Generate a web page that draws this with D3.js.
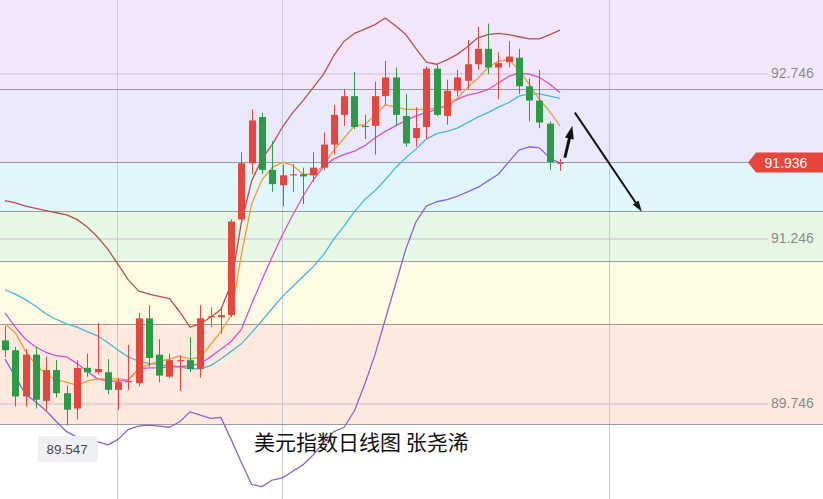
<!DOCTYPE html>
<html><head><meta charset="utf-8">
<script src="https://cdn.jsdelivr.net/npm/d3@7"></script>
<style>body{margin:0;background:#fff;overflow:hidden}svg{display:block}</style>
</head><body><svg id="c" width="823" height="499"></svg>
<script>
// ---- data ----
const opens  = [90.32,90.23,89.81,90.19,89.77,90.05,89.84,89.70,90.07,90.03, 90.03,89.87,89.94,89.93,90.52,90.19,89.99,90.13,90.14,90.06, 90.53,90.53,90.55,91.42,91.93,92.35,91.87,91.73,91.83,91.83, 91.82,91.89,92.10,92.37,92.54,92.27,92.27,92.54,92.71,92.36, 92.16,92.26,92.79,92.36,92.59,92.68,92.83,92.97,92.80,92.85, 92.89,92.63,92.50,92.29,91.93];
const closes = [90.23,89.81,90.19,89.78,90.05,89.84,89.69,90.07,90.03,90.06, 89.87,89.94,89.95,90.52,90.16,90.00,90.14,90.14,90.06,90.52, 90.54,90.55,91.40,91.93,92.32,91.87,91.74,91.82,91.83,91.81, 91.89,92.10,92.37,92.54,92.26,92.26,92.54,92.71,92.37,92.11, 92.25,92.79,92.37,92.59,92.71,92.83,92.97,92.80,92.84,92.90, 92.63,92.50,92.30,91.94,91.936];
const highs  = [90.45,90.26,90.24,90.26,90.17,90.14,89.91,90.14,90.20,90.48, 90.15,89.98,90.28,90.57,90.64,90.33,90.20,90.18,90.35,90.64, 90.62,90.62,91.42,92.03,92.42,92.39,92.13,91.92,91.92,91.89, 92.03,92.21,92.46,92.60,92.76,92.37,92.67,92.86,92.80,92.56, 92.44,92.81,92.83,92.69,92.78,93.05,93.17,93.20,92.94,93.04, 92.97,92.70,92.78,92.31,91.97];
const lows   = [90.17,89.72,89.72,89.70,89.68,89.80,89.547,89.60,89.99,90.01, 89.83,89.69,89.87,89.90,90.08,89.94,89.98,89.86,90.03,89.98, 90.44,90.38,90.53,91.40,91.83,91.83,91.67,91.54,91.67,91.56, 91.76,91.87,92.01,92.27,92.24,92.15,92.01,92.46,92.27,92.08, 92.08,92.15,92.36,92.28,92.54,92.60,92.78,92.74,92.51,92.80, 92.56,92.31,92.25,91.87,91.86];

const ma5  = [90.47,90.39,90.22,90.10,90.01,89.96,89.94,89.91,89.95,89.97, 89.97,89.97,89.96,90.06,90.10,90.13,90.15,90.18,90.15,90.17, 90.28,90.40,90.55,91.10,91.56,91.78,91.89,91.94,91.91,91.83, 91.83,91.91,92.05,92.16,92.27,92.28,92.37,92.46,92.44,92.42, 92.42,92.42,92.43,92.45,92.52,92.62,92.70,92.80,92.86,92.87, 92.78,92.65,92.51,92.40,92.27];
const ma10 = [90.57,90.44,90.33,90.26,90.21,90.18,90.17,90.11,90.04,89.97, 89.95,89.95,89.96,90.06,90.07,90.07,90.08,90.08,90.09,90.11, 90.17,90.24,90.31,90.42,90.65,90.87,91.08,91.28,91.46,91.63, 91.78,91.90,91.97,92.01,92.04,92.09,92.16,92.22,92.27,92.32, 92.36,92.39,92.42,92.46,92.51,92.55,92.57,92.60,92.66,92.72, 92.75,92.74,92.71,92.65,92.57];
const ma20 = [90.78,90.74,90.69,90.63,90.56,90.51,90.47,90.44,90.40,90.36, 90.30,90.23,90.17,90.13,90.11,90.10,90.09,90.08,90.06,90.06, 90.09,90.15,90.22,90.29,90.39,90.50,90.61,90.72,90.81,90.90, 90.99,91.10,91.24,91.36,91.49,91.60,91.68,91.78,91.89,91.98, 92.06,92.15,92.20,92.22,92.25,92.30,92.35,92.39,92.44,92.48, 92.54,92.56,92.56,92.54,92.52];
const bollUpper = [91.59,91.57,91.54,91.52,91.50,91.48,91.46,91.42,91.35,91.26, 91.15,91.01,90.87,90.77,90.74,90.72,90.70,90.58,90.44,90.47, 90.53,90.60,90.83,91.39,91.77,91.97,92.10,92.26,92.39,92.50, 92.62,92.74,92.91,93.04,93.11,93.15,93.19,93.25,93.18,93.10, 92.97,92.85,92.83,92.87,92.92,92.99,93.07,93.10,93.11,93.10, 93.08,93.06,93.06,93.10,93.14];
const bollLower = [90.15,89.99,89.83,89.76,89.68,89.58,89.49,89.44,89.39,89.40, 89.37,89.42,89.51,89.54,89.55,89.54,89.53,89.58,89.67,89.64, 89.61,89.62,89.42,89.21,89.01,88.99,89.05,89.07,89.13,89.19, 89.28,89.39,89.49,89.53,89.68,89.92,90.19,90.51,90.83,91.15, 91.40,91.54,91.58,91.60,91.63,91.67,91.71,91.77,91.83,91.94, 92.05,92.08,92.07,91.98,91.93];

const bandLevels = [92.605, 91.94, 91.496, 91.04, 90.469, 89.56];
const bandColors = ["#f4e6fa","#eae9fb","#e1f5fc","#e7f7e5","#fdfbe4","#fde9de","#ffffff"];
const axisTicks = [92.746, 91.246, 89.746];
const lastPrice = 91.936;
const lowPrice = 89.547;
const vGridIdx = [10.9, 26.95, 58.75];
const arrows = [
  {from:[54.47, 91.98], to:[55.2, 92.27], w:3, head:[9,13]},
  {from:[55.45, 92.39], to:[61.96, 91.49], w:2, head:[7,11]}
];
const title = "美元指数日线图 张尧浠";

// ---- chart ----
const W = 823, H = 499;
const svg = d3.select("#c");
const x = d3.scaleLinear().domain([0, 54]).range([5, 560]);
const y = d3.scaleLinear().domain([89.746, 92.746]).range([403.5, 73.5]);

// bands
const edges = [0, ...bandLevels.map(v => y(v)), H];
svg.append("g").selectAll("rect").data(bandColors).join("rect")
  .attr("x", 0).attr("width", W)
  .attr("y", (d,i) => edges[i]).attr("height", (d,i) => edges[i+1]-edges[i])
  .attr("fill", d => d);

// vertical faint grid
svg.append("g").selectAll("line").data(vGridIdx).join("line")
  .attr("x1", d => Math.round(x(d))+0.5).attr("x2", d => Math.round(x(d))+0.5)
  .attr("y1", 0).attr("y2", H).attr("stroke", "#c9c9d2").attr("stroke-width", 1);

// right axis faint lines + labels
const ax = d3.axisRight(y).tickValues(axisTicks).tickSize(-768).tickPadding(3).tickFormat(d3.format(".3f"));
const axg = svg.append("g").attr("transform", "translate(768,0)").call(ax);
axg.select(".domain").remove();
axg.selectAll(".tick line").attr("stroke", "#c4c0cc").attr("stroke-width", 1);
axg.selectAll(".tick text").attr("fill", "#8a8a8a").attr("font-size", 14)
  .attr("font-family", "'Liberation Sans', Arial, sans-serif");

// band boundary lines
svg.append("g").selectAll("line").data(bandLevels).join("line")
  .attr("x1", 0).attr("x2", W)
  .attr("y1", d => Math.round(y(d))+0.5).attr("y2", d => Math.round(y(d))+0.5)
  .attr("stroke", "#8e8a90").attr("stroke-width", 1).attr("opacity", 0.85);

// indicator lines
const idx = d3.range(opens.length);
const lineGen = arr => d3.line().x(i => x(i)).y(i => y(arr[i]))(idx);
const lines = [
  {d: bollUpper, c: "#b4524c"},
  {d: bollLower, c: "#8b63d4"},
  {d: ma20, c: "#45bad6"},
  {d: ma10, c: "#d64fdc"},
  {d: ma5, c: "#ef9b3a"}
];
svg.append("g").selectAll("path").data(lines).join("path")
  .attr("d", l => lineGen(l.d)).attr("fill", "none")
  .attr("stroke", l => l.c).attr("stroke-width", 1.3).attr("stroke-linejoin", "round");

// candles
const up = "#e5473f", down = "#2b9c45";
const cg = svg.append("g").selectAll("g").data(idx).join("g");
cg.append("line")
  .attr("x1", i => Math.round(x(i))+0.5).attr("x2", i => Math.round(x(i))+0.5)
  .attr("y1", i => y(highs[i])).attr("y2", i => y(lows[i]))
  .attr("stroke", i => closes[i] >= opens[i] ? up : down).attr("stroke-width", 1);
cg.append("rect")
  .attr("x", i => Math.round(x(i)) - 3)
  .attr("width", 7)
  .attr("y", i => y(Math.max(opens[i], closes[i])))
  .attr("height", i => Math.max(1.2, Math.abs(y(opens[i]) - y(closes[i]))))
  .attr("fill", i => closes[i] >= opens[i] ? up : down);

// arrows
const ag = svg.append("g");
arrows.forEach(a => {
  const x1 = x(a.from[0]), y1 = y(a.from[1]), x2 = x(a.to[0]), y2 = y(a.to[1]);
  const ang = Math.atan2(y2 - y1, x2 - x1);
  const [hw, hl] = a.head;
  const bx = x2 - hl*Math.cos(ang), by = y2 - hl*Math.sin(ang);
  ag.append("line").attr("x1", x1).attr("y1", y1).attr("x2", bx + 2*Math.cos(ang)).attr("y2", by + 2*Math.sin(ang))
    .attr("stroke", "#111").attr("stroke-width", a.w);
  const px = -Math.sin(ang), py = Math.cos(ang);
  ag.append("path").attr("d", `M${x2},${y2}L${bx + px*hw/2},${by + py*hw/2}L${bx - px*hw/2},${by - py*hw/2}Z`)
    .attr("fill", "#111");
});

// last price marker
const ly = y(lastPrice);
svg.append("path")
  .attr("d", `M748,${ly}L756,${ly-10}L823,${ly-10}L823,${ly+10}L756,${ly+10}Z`)
  .attr("fill", "#e8453c");
svg.append("text").attr("x", 786).attr("y", ly + 5).attr("text-anchor", "middle")
  .attr("fill", "#fff").attr("font-size", 14)
  .attr("font-family", "'Liberation Sans', Arial, sans-serif").text(d3.format(".3f")(lastPrice));

// low marker
const lowIdx = lows.indexOf(d3.min(lows));
const lx = x(lowIdx);
svg.append("rect").attr("x", lx - 29).attr("y", 436).attr("width", 60).attr("height", 26)
  .attr("fill", "#eef0f3").attr("rx", 2);
svg.append("text").attr("x", lx + 0.5).attr("y", 454).attr("text-anchor", "middle")
  .attr("fill", "#4a4a4a").attr("font-size", 13.5)
  .attr("font-family", "'Liberation Sans', Arial, sans-serif").text(d3.format(".3f")(lowPrice));

// title
svg.append("text").attr("x", 254).attr("y", 450)
  .attr("font-size", 21).attr("fill", "#111")
  .attr("font-family", "'Noto Sans CJK SC', sans-serif").text(title);
</script></body></html>
